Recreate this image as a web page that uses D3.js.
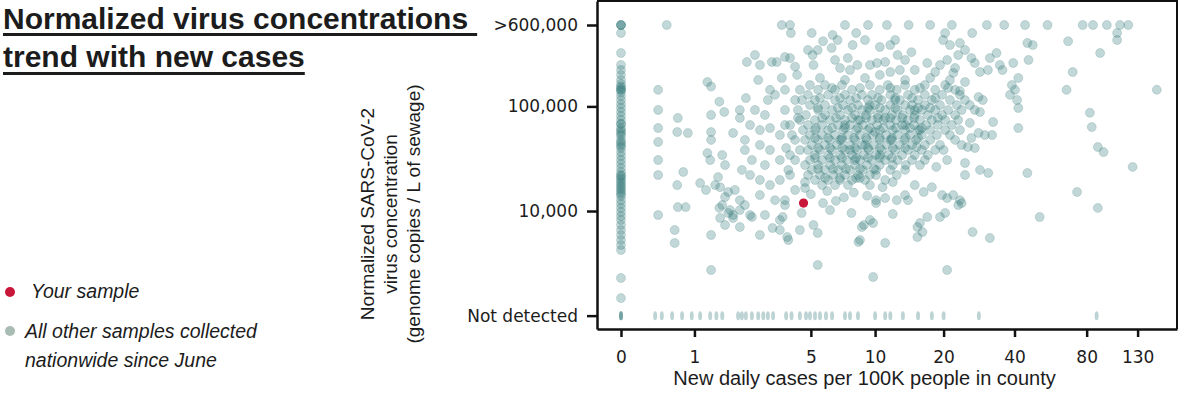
<!DOCTYPE html>
<html>
<head>
<meta charset="utf-8">
<script src="https://d3js.org/d3.v7.min.js"></script>
<style>
  body { margin: 0; background: #fff; }
  svg { display: block; }
</style>
</head>
<body>
<svg id="chart" width="1184" height="395"></svg>
<script>
// axis ticks
const xTickValues = [0, 1, 5, 10, 20, 40, 80, 130];
const yTickValues = [1000, 10000, 100000, 600000];
const yTickLabels = ["Not detected", "10,000", "100,000", ">600,000"];
const notDetectedLevel = 1000;
const cappedLevel = 600000;

// [new daily cases per 100K, copies / L]
const yourSample = [4.6, 11900];

// samples from counties with 0 new cases
const zeroCaseConc = [503000, 324000, 249000, 223000, 200000, 179000, 164000, 155000, 150000, 144000, 144000,
  137000, 126000, 115000, 105000, 96600, 88400, 81000, 74100, 68000, 68000, 62100, 59400, 56900, 54500, 52100,
  47800, 45700, 43700, 41800, 40000, 36600, 33600, 30700, 28200, 25800, 23600, 22100, 21600, 20700, 19800, 18900,
  18100, 17300, 16600, 15900, 15200, 14500, 13900, 12700, 11700, 10700, 9780, 8950, 8200, 7350, 6580, 5900, 5280,
  4730, 4240, 2290, 1470];

// samples with no virus detected (cases only)
const notDetectedCases = [0, 0, 0, 0.38, 0.47, 0.62, 0.78, 0.95, 1.11, 1.32, 1.46, 1.6, 2.02, 2.13, 2.25, 2.44, 2.65,
  2.83, 3.0, 3.2, 3.75, 4.0, 4.41, 4.73, 4.95, 5.24, 5.54, 5.92, 6.33, 7.28, 7.68, 8.36, 10.0, 11.1, 11.7, 13.3,
  15.5, 17.8, 20.0, 28.3, 88];

// samples above 600,000 (cases only)
const cappedCases = [0, 0, 0, 0.54, 3.56, 3.93, 7.28, 9.29, 11.3, 14.1, 17.5, 21.7, 30.6, 36.2, 44.3, 55, 77, 85, 97,
  110, 119];

// scattered samples
const otherSamples = [
  [0.42,144000],[0.42,92500],[0.42,62100],[0.42,45700],[0.42,30700],[0.42,22100],[0.42,9160],
  [0.71,77500],[0.7,56900],[0.88,55700],[0.8,23600],[0.7,17700],[0.71,10900],[0.84,10900],[0.66,6580],[0.66,4950],
  [1.11,18500],[1.26,171000],[1.34,155000],[1.53,111000],[1.65,88400],[1.34,82800],[1.34,56900],[1.34,47800],
  [1.26,35800],[1.32,30700],[1.6,34300],[1.67,27500],[1.5,21100],[1.43,17700],[1.23,15900],[1.55,16900],[1.75,15200],
  [1.93,15900],[1.67,13600],[1.6,11400],[1.8,10200],[1.88,9160],[1.53,10700],[1.55,8580],[1.67,7350],[1.88,8580],
  [1.34,5900],[1.34,2730],
  [2.07,92500],[2.07,77500],[2.25,120000],[2.28,266000],[2.54,310000],[2.71,249000],[2.65,179000],[3.08,144000],
  [3.0,115000],[3.15,266000],[3.35,266000],[3.7,297000],[3.93,290000],[4.27,200000],[3.56,187000],
  [2.07,12700],[2.22,11400],[2.07,10200],[2.44,8770],[2.07,7030],[2.71,5900],[3.18,6880],[3.85,5280],[2.13,24700],
  [2.38,22100],[2.71,19800],[3.08,17700],[3.48,19800],[3.93,22100],[4.17,15900],[2.71,14200],[3.28,12700],
  [3.7,11400],[2.89,9160],[3.48,8200],
  [1.88,55700],[2.22,47800],[2.38,66400],[2.71,59400],[3.08,62100],[3.48,53300],[3.93,66400],[4.17,47800],
  [2.22,38300],[2.44,30700],[2.71,42800],[3.08,38300],[3.48,30700],[3.93,34300],[4.41,38300],[2.89,27500],
  [2.54,92500],[2.89,82800],[3.7,92500],[4.17,115000],[3.28,129000],[3.7,144000],
  [3.7,66400],[4.02,53300],[3.75,40000],[4.17,30700],[3.85,24700],[4.31,77500],
  [3.97,503000],[5.05,503000],[8.2,503000],[20.3,503000],[26.5,503000],
  [6.37,482000],[6.72,431000],[6.3,362000],[9.0,431000],[7.9,386000],[5.73,420000],[5.4,346000],[4.84,346000],
  [5.1,310000],[5.15,249000],[4.17,240000],[6.54,278000],[6.9,233000],[7.68,223000],[7.5,290000],[8.3,249000],
  [9.48,249000],[10.5,370000],[11.7,386000],[12.3,431000],[12.6,310000],[14.5,330000],[13.6,278000],[15.0,223000],
  [10.2,260000],[11.1,266000],[11.7,213000],[12.9,223000],[17.0,260000],[18.4,213000],[19.9,431000],[21.3,386000],
  [23.5,404000],[24.7,346000],[23.1,310000],[26.3,290000],[20.7,278000],[19.3,249000],[22.4,233000],[22.0,209000],
  [24.7,171000],[27.2,260000],
  [5.54,187000],[7.28,179000],[9.0,187000],[13.6,179000],[17.5,187000],[21.3,179000],[10.5,200000],[23.5,140000],
  [25.9,103000],
  [45.3,404000],[47.7,386000],[67,420000],[45.8,278000],[39.5,260000],[35.6,223000],[33.6,324000],[31.5,290000],
  [34.7,249000],[30.9,223000],[28.6,213000],[70,213000],[91,324000],[41.5,187000],[39,160000],[40.2,144000],
  [41,115000],[41.5,96600],[38.3,129000],[66,144000],[156,144000],[28.2,123000],[29.4,115000],[28.6,88400],
  [27.2,92500],[32.5,70900],[25.9,69500],[28.2,55700],[30,53300],[32.2,53300],[41.5,62100],[82.5,86900],[84,63500],
  [89,40900],[94,36600],[25.4,40900],[27.2,40000],[24.7,28800],[24.7,22100],[28.6,24700],[31,23100],[45.3,23100],
  [124,26400],[73,15200],[107,503000],[107,431000],
  [20.7,13300],[23.5,12700],[23.1,11400],[15.8,7680],[16.2,6300],[15.4,5640],[17.0,8770],[20.3,9580],[26.6,6300],
  [31.5,5520],[51,8770],[20.7,2730],[89,10700],[11.1,4950],[12.0,9370],[13.6,14200],
  [3.7,12700],[4.68,16600],[4.68,18900],[5.15,7350],[4.5,9580],[3.6,8770],[3.8,5640],[4.41,6580],[5.73,11900],
  [6.19,10200],[7.8,9580],[8.9,7350],[10.1,12700],[11.1,13300],[12.5,12700],[14.0,12700],[15.0,17700],[16.4,15200],
  [17.8,16900],[19.7,14200],[22.0,14200],[23.9,11900],[19.3,8770],[15.4,7030],[9.48,8200],[8.54,5280],[8.54,20700],
  [10.1,22100],[10.8,16900],[12.0,18900],[20.7,30700],[18.6,26400],[23.9,42800],[26.3,49900],[20.0,38300],
  [15.3,40900],[5.4,6160],[5.4,3050],[8.4,5060],[9.8,2340],[8.7,7030],[9.8,7680],[10.1,11900],[2.38,9160],
  [1.75,9580],[3.48,6580],
  [5.0,14500],[6.0,15500],[7.2,13500],[8.0,15000],[9.2,14000],[6.6,12500],
  [7.28,66400],[8.54,74100],[9.99,56900],[11.1,77500],[7.68,38300],[9.0,42800],[11.7,47800],[13.6,66400],
  [15.0,92500],[9.48,103000],[8.1,30700],[6.9,47800],[10.5,34300],[12.3,115000],[15.8,59400]
];

// dense middle of the cloud, one concentration per row
const coreRowConc = [160000, 150000, 144000, 129000, 120000, 115000, 103000, 96600, 92500, 82800, 77500, 74100,
  66400, 62100, 59400, 53300, 49900, 47800, 42800, 40000, 38300, 34300, 32200, 30700, 27500, 25200, 24700, 22100,
  20700, 19800, 17700];
const coreRowCases = [
  [4.95, 5.86, 7.05, 9.48, 11.4, 13.6, 16.6, 20.3],
  [6.33, 8.54, 11.7, 15.8, 20.9],
  [4.41, 5.42, 6.54, 7.85, 10.5, 12.5, 15.0, 18.4, 22.4],
  [4.84, 6.06, 7.28, 8.72, 9.68, 11.7, 14.0, 16.6, 19.7, 23.5],
  [5.54, 6.9, 8.19, 10.3, 12.3, 14.6, 18.4],
  [4.52, 5.24, 6.54, 7.68, 9.29, 10.7, 12.9, 15.5, 17.8, 21.3, 24.7],
  [4.95, 5.86, 7.13, 8.36, 9.99, 11.7, 13.6, 14.6, 16.6, 19.3, 22.8],
  [5.42, 6.75, 7.85, 9.29, 10.5, 12.3, 15.5, 17.5],
  [4.31, 5.42, 6.33, 7.52, 8.72, 9.48, 11.1, 12.6, 14.3, 16.1, 18.4, 20.9, 23.9],
  [4.73, 5.86, 6.9, 8.1, 9.1, 10.3, 11.9, 13.3, 15.0, 17.1, 19.7, 22.4],
  [5.67, 6.61, 7.85, 9.1, 10.3, 11.7, 13.2, 14.9, 18.9],
  [4.41, 5.24, 6.19, 7.28, 8.36, 9.68, 10.9, 12.4, 14.0, 15.8, 17.8, 20.3, 23.1],
  [4.84, 5.67, 6.75, 7.68, 8.81, 10.2, 11.7, 13.2, 14.9, 16.8, 18.9, 21.7],
  [5.3, 6.33, 7.28, 8.36, 9.48, 10.9, 12.4, 14.3, 16.1],
  [4.57, 5.24, 6.06, 7.13, 8.19, 9.29, 10.5, 12.0, 13.6, 15.5, 17.5, 20.3, 23.5],
  [4.95, 5.67, 6.54, 7.52, 8.54, 9.78, 11.2, 12.6, 14.3, 16.1, 18.7, 21.3],
  [5.24, 6.06, 7.05, 8.02, 9.1, 10.5, 11.9, 13.7, 15.5],
  [4.68, 5.42, 6.19, 7.05, 8.1, 9.19, 10.5, 11.9, 13.5, 15.2, 17.5, 22.4],
  [5.06, 5.86, 6.68, 7.68, 8.72, 9.89, 11.3, 12.9, 14.6, 16.6, 19.3],
  [5.42, 6.19, 7.05, 8.1, 9.29, 10.5, 12.0, 13.6],
  [4.84, 5.54, 6.33, 7.28, 8.27, 9.38, 10.7, 12.3, 14.0, 16.1, 18.4],
  [5.24, 6.06, 6.9, 7.85, 8.9, 10.1, 11.5, 13.2, 15.0, 17.1],
  [5.24, 6.19, 7.05, 8.19, 9.29, 10.5, 11.9],
  [4.95, 5.67, 6.54, 7.44, 8.54, 9.68, 11.1, 12.6, 14.6, 16.6],
  [4.68, 5.42, 6.19, 7.05, 8.1, 9.19, 10.5, 12.0, 13.7, 15.8],
  [5.42, 6.4, 7.36, 8.54, 9.89],
  [5.06, 5.86, 6.75, 7.68, 8.81, 10.1, 11.7, 13.6],
  [4.84, 5.54, 6.4, 7.28, 8.36, 9.48, 12.5],
  [5.86, 6.9, 8.19],
  [5.24, 6.06, 6.9, 7.85, 9.0, 11.1],
  [5.67, 6.54, 7.52, 9.48]
];

const svg = d3.select("#chart");
const plotLeft = 597, plotRight = 1177, plotTop = 1, plotBottom = 329;
const dotColor = "#357a79";

// log(x+1) style axis
const x = d3.scaleSymlog().constant(1).domain([-0.254, 189]).range([plotLeft, plotRight]);
const y = d3.scaleLog().domain([745, 1017600]).range([plotBottom, plotTop]);

const points = [
  ...zeroCaseConc.map(c => [0, c]),
  ...cappedCases.map(c => [c, cappedLevel]),
  ...otherSamples,
  ...coreRowConc.flatMap((c, i) => coreRowCases[i].map(v => [v, c]))
];

// title
const title = svg.append("g").attr("font-family", "'Liberation Sans', Arial, sans-serif")
  .attr("font-weight", "bold").attr("font-size", 30).attr("fill", "#1c1c1c");
["Normalized virus concentrations", "trend with new cases"].forEach((t, i) => {
  const txt = title.append("text").attr("x", 3).attr("y", 29 + i * 38).text(t);
  const w = txt.node().getComputedTextLength();
  title.append("rect").attr("x", 3).attr("y", 33 + i * 39).attr("width", w + (i === 0 ? 9 : 0)).attr("height", 3);
});

// legend
const legend = svg.append("g").attr("font-family", "'Liberation Sans', Arial, sans-serif")
  .attr("font-style", "italic").attr("font-size", 19.5).attr("fill", "#1c1c1c");
legend.append("circle").attr("cx", 10).attr("cy", 292).attr("r", 5).attr("fill", "#c8173a");
legend.append("text").attr("x", 31).attr("y", 298).text("Your sample");
legend.append("circle").attr("cx", 10).attr("cy", 331).attr("r", 5).attr("fill", "#a9bcb3");
legend.append("text").attr("x", 25).attr("y", 338).text("All other samples collected");
legend.append("text").attr("x", 25).attr("y", 367).text("nationwide since June");

// y axis title
const yTitle = ["Normalized SARS-CoV-2", "virus concentration", "(genome copies / L of sewage)"];
svg.append("g").selectAll("text").data(yTitle).join("text")
  .attr("transform", (d, i) => `translate(${374 + i * 23},214) rotate(-90)`)
  .attr("text-anchor", "middle")
  .attr("font-family", "'Liberation Sans', Arial, sans-serif")
  .attr("font-size", 19).attr("fill", "#1c1c1c")
  .text(d => d);

// points
const dots = svg.append("g");
dots.selectAll("circle").data(points).join("circle")
  .attr("cx", d => x(d[0]))
  .attr("cy", d => y(d[1]))
  .attr("r", 4.5)
  .attr("fill", dotColor).attr("fill-opacity", 0.3)
  .attr("stroke", dotColor).attr("stroke-opacity", 0.25).attr("stroke-width", 0.8);

dots.selectAll("ellipse").data(notDetectedCases).join("ellipse")
  .attr("cx", d => x(d))
  .attr("cy", y(notDetectedLevel))
  .attr("rx", 2).attr("ry", 4.5)
  .attr("fill", dotColor).attr("fill-opacity", 0.32);

// axes
const yAxis = svg.append("g")
  .attr("transform", `translate(${plotLeft},0)`)
  .call(d3.axisLeft(y).tickValues(yTickValues).tickFormat((d, i) => yTickLabels[i])
    .tickSize(10).tickSizeOuter(0).tickPadding(9));

const xAxis = svg.append("g")
  .attr("transform", `translate(0,${plotBottom})`)
  .call(d3.axisBottom(x).tickValues(xTickValues).tickFormat(d3.format("d"))
    .tickSize(8).tickSizeOuter(0).tickPadding(14));

[yAxis, xAxis].forEach(a => {
  a.select(".domain").attr("stroke", "#111").attr("stroke-width", 2.5);
  a.selectAll(".tick line").attr("stroke", "#111").attr("stroke-width", 2.5);
  a.selectAll(".tick text").attr("font-family", "'DejaVu Sans', sans-serif")
    .attr("font-size", 17).attr("fill", "#1c1c1c");
});

// top and right frame
svg.append("path")
  .attr("d", `M${plotLeft},${plotTop}H${plotRight}V${plotBottom}`)
  .attr("fill", "none").attr("stroke", "#111").attr("stroke-width", 2);

svg.append("text")
  .attr("x", (x(1) + x(80)) / 2 - 26).attr("y", 385)
  .attr("text-anchor", "middle")
  .attr("font-family", "'Liberation Sans', Arial, sans-serif")
  .attr("font-size", 20).attr("fill", "#1c1c1c")
  .text("New daily cases per 100K people in county");

// your sample on top
svg.append("circle")
  .attr("cx", x(yourSample[0])).attr("cy", y(yourSample[1]))
  .attr("r", 4.6).attr("fill", "#c8173a");
</script>
</body>
</html>
